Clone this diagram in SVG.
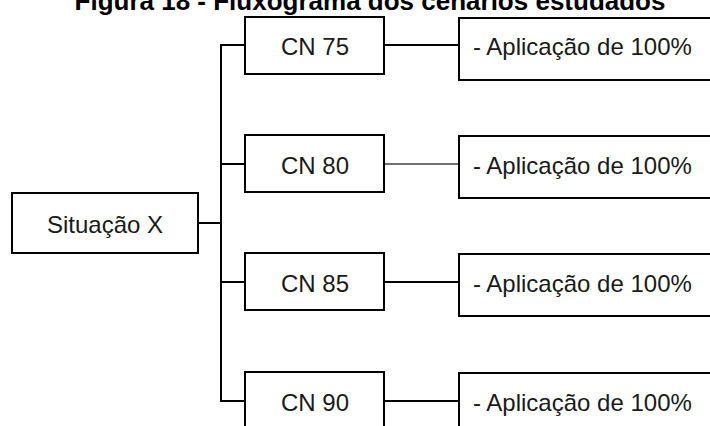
<svg xmlns="http://www.w3.org/2000/svg" width="710" height="426" viewBox="0 0 710 426">
  <style>
    .box { fill: #ffffff; stroke: #000000; stroke-width: 2; }
    .lbl { font-family: "Liberation Sans", Arial, sans-serif; font-size: 24px; fill: #1a1a1a; }
    .mid { text-anchor: middle; }
    .title { font-family: "Liberation Sans", Arial, sans-serif; font-size: 26px; font-weight: bold; fill: #000000; text-anchor: middle; }
    .wire { fill: none; stroke: #000000; stroke-width: 2; }
    .thin { fill: none; stroke: #404040; stroke-width: 1.5; }
  </style>
  <rect width="710" height="426" fill="#ffffff"/>

  <text class="title" x="370" y="10">Figura 18 - Fluxograma dos cenários estudados</text>

  <!-- connectors -->
  <g id="connectors">
    <path class="wire" d="M198 223 H221"/>
    <path class="wire" d="M245 45 H221 V401 H245"/>
    <path class="wire" d="M221 164 H245"/>
    <path class="wire" d="M221 282 H245"/>
    <path class="wire" d="M384 45 H459"/>
    <path class="thin" d="M384 164 H459"/>
    <path class="wire" d="M384 282 H459"/>
    <path class="wire" d="M384 401 H459"/>
  </g>

  <g id="situacao-x">
    <rect class="box" x="12" y="193" width="186" height="60"/>
    <text class="lbl mid" x="105" y="233">Situação X</text>
  </g>

  <g id="cn75">
    <rect class="box" x="245" y="17" width="139" height="57"/>
    <text class="lbl mid" x="315" y="55">CN 75</text>
  </g>
  <g id="cn80">
    <rect class="box" x="245" y="135" width="139" height="57"/>
    <text class="lbl mid" x="315" y="174">CN 80</text>
  </g>
  <g id="cn85">
    <rect class="box" x="245" y="253" width="139" height="57"/>
    <text class="lbl mid" x="315" y="292">CN 85</text>
  </g>
  <g id="cn90">
    <rect class="box" x="245" y="372" width="139" height="57"/>
    <text class="lbl mid" x="315" y="411">CN 90</text>
  </g>

  <g id="aplicacao-75">
    <rect class="box" x="459" y="18" width="262" height="62"/>
    <text class="lbl" x="473" y="55">- Aplicação de 100%</text>
  </g>
  <g id="aplicacao-80">
    <rect class="box" x="459" y="136" width="262" height="62"/>
    <text class="lbl" x="473" y="174">- Aplicação de 100%</text>
  </g>
  <g id="aplicacao-85">
    <rect class="box" x="459" y="254" width="262" height="62"/>
    <text class="lbl" x="473" y="292">- Aplicação de 100%</text>
  </g>
  <g id="aplicacao-90">
    <rect class="box" x="459" y="373" width="262" height="62"/>
    <text class="lbl" x="473" y="411">- Aplicação de 100%</text>
  </g>
</svg>
